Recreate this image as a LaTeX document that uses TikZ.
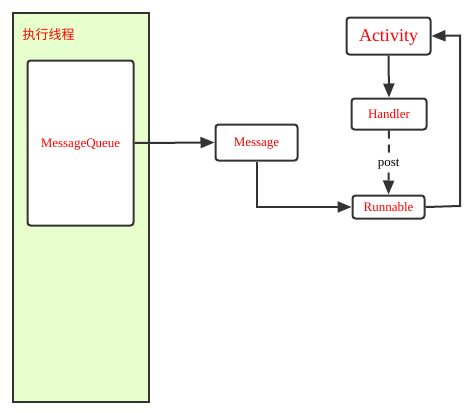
\documentclass[tikz,border=0pt]{standalone}
\usepackage{fontspec}
\setmainfont{Liberation Serif}
\newfontfamily\cjk{Noto Sans CJK SC}
\usetikzlibrary{arrows.meta}
\definecolor{edge}{HTML}{333333}
\definecolor{lightgreen}{HTML}{E6FFCC}
\definecolor{txtred}{HTML}{FF0000}
\tikzset{
  box/.style={draw=edge, line width=2pt, rounded corners=3pt, fill=white, text=txtred, inner sep=0pt, font=\fontsize{13}{15}\selectfont},
  conn/.style={draw=edge, line width=2pt, -{Triangle[length=14pt,width=11pt]}},
}
\begin{document}
\begin{tikzpicture}[x=1pt,y=-1pt]
\useasboundingbox (0,0) rectangle (472,413);
\node[draw=edge, line width=2pt, fill=lightgreen, minimum width=136pt, minimum height=389pt, inner sep=0pt, anchor=north west] (thread) at (11.5,11.5) {};
\node[text=txtred, font=\cjk\fontsize{13}{15}\selectfont, anchor=west] (title) at (19,35) {执行线程};
\node[box, minimum width=106pt, minimum height=165pt, anchor=north west, text depth=2pt, text height=10pt] (mq) at (26.5,59.5) {MessageQueue};
\node[box, minimum width=82pt, minimum height=36pt, anchor=north west, text depth=2pt, text height=10pt] (msg) at (214.5,123.5) {Message};
\node[box, minimum width=84pt, minimum height=37pt, anchor=north west, font=\fontsize{18}{22}\selectfont, text depth=3pt, text height=13pt] (act) at (345.5,16.5) {Activity};
\node[box, minimum width=75pt, minimum height=31pt, anchor=north west, text depth=2pt, text height=10pt] (hdl) at (350.5,97.5) {Handler};
\node[box, minimum width=72pt, minimum height=23pt, anchor=north west, text depth=2pt, text height=10pt] (run) at (351.5,194.5) {Runnable};
\draw[conn] (mq.east) -- (msg.west);
\draw[conn] (msg.south) |- (run.west);
\draw[conn] (act.south) -- (hdl.north);
\draw[conn, dashed, dash pattern=on 8pt off 6pt] (hdl.south) -- node[fill=white, text=black, font=\fontsize{13}{15}\selectfont, inner sep=1pt, text depth=2pt, text height=10pt] (post) {post} (run.north);
\coordinate (c1) at (460,206);
\coordinate (c2) at (460,35.5);
\draw[conn] (run.east) -- (c1) -- (c2) -- (act.east);
\end{tikzpicture}
\end{document}
